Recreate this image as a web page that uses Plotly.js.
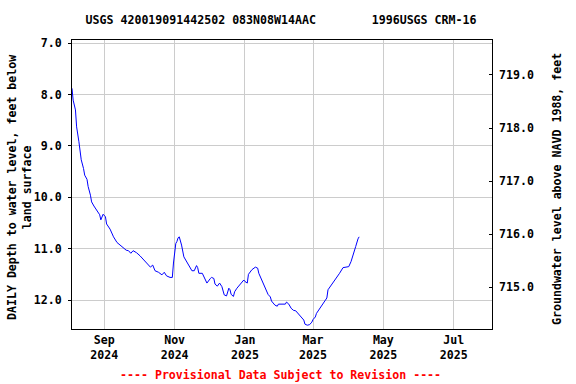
<!DOCTYPE html>
<html>
<head>
<meta charset="utf-8">
<script src="https://cdn.plot.ly/plotly-3.0.1.min.js"></script>
<style>html,body{margin:0;padding:0;background:#fff;}#chart{width:576px;height:384px;}</style>
</head>
<body>
<div id="chart"></div>
<script>
// Daily depth to water level, feet below land surface
const dates = [
  '2024-08-04','2024-08-05','2024-08-07','2024-08-08','2024-08-10','2024-08-11','2024-08-12',
  '2024-08-14','2024-08-15','2024-08-17','2024-08-18','2024-08-20','2024-08-21','2024-08-23',
  '2024-08-25','2024-08-28','2024-08-29','2024-08-31','2024-09-02','2024-09-03','2024-09-06',
  '2024-09-09','2024-09-12','2024-09-15','2024-09-17','2024-09-20','2024-09-22','2024-09-24',
  '2024-09-26','2024-09-29','2024-10-02','2024-10-05','2024-10-08','2024-10-11','2024-10-13',
  '2024-10-15','2024-10-18','2024-10-21','2024-10-23','2024-10-25','2024-10-28','2024-10-30',
  '2024-10-31','2024-11-01','2024-11-02','2024-11-03','2024-11-04','2024-11-05','2024-11-07',
  '2024-11-09','2024-11-12','2024-11-14','2024-11-16','2024-11-18','2024-11-20','2024-11-21',
  '2024-11-22','2024-11-25','2024-11-27','2024-11-29','2024-12-02','2024-12-03','2024-12-05',
  '2024-12-06','2024-12-08','2024-12-10','2024-12-12','2024-12-14','2024-12-16','2024-12-18',
  '2024-12-19','2024-12-20','2024-12-22','2024-12-23','2024-12-25','2024-12-28','2024-12-31',
  '2025-01-01','2025-01-03','2025-01-04','2025-01-07','2025-01-10','2025-01-12','2025-01-13',
  '2025-01-16','2025-01-18','2025-01-20','2025-01-21','2025-01-23','2025-01-24','2025-01-27',
  '2025-01-29','2025-01-30','2025-02-02','2025-02-05','2025-02-06','2025-02-08','2025-02-10',
  '2025-02-12','2025-02-14','2025-02-16','2025-02-19','2025-02-21','2025-02-22','2025-02-24',
  '2025-02-26','2025-02-28','2025-03-01','2025-03-03','2025-03-04','2025-03-07','2025-03-09',
  '2025-03-11','2025-03-13','2025-03-14','2025-03-17','2025-03-20','2025-03-22','2025-03-24',
  '2025-03-27','2025-03-30','2025-04-01','2025-04-03','2025-04-05','2025-04-07','2025-04-09',
  '2025-04-10'
];
const depth = [
  7.88, 8.11, 8.30, 8.63, 8.92, 9.11, 9.27,
  9.44, 9.57, 9.65, 9.79, 9.96, 10.09, 10.17,
  10.25, 10.34, 10.44, 10.33, 10.38, 10.52, 10.62,
  10.77, 10.88, 10.94, 10.98, 11.03, 11.04, 11.09,
  11.04, 11.08, 11.14, 11.22, 11.30, 11.36, 11.32,
  11.43, 11.46, 11.51, 11.46, 11.53, 11.56, 11.56,
  11.28, 11.03, 10.90, 10.86, 10.79, 10.77, 10.93,
  11.16, 11.27, 11.35, 11.43, 11.43, 11.33, 11.37,
  11.48, 11.48, 11.58, 11.67, 11.58, 11.56, 11.58,
  11.69, 11.73, 11.67, 11.74, 11.90, 11.92, 11.77,
  11.80, 11.89, 11.93, 11.84, 11.77, 11.69, 11.61,
  11.64, 11.67, 11.50, 11.41, 11.36, 11.38, 11.48,
  11.64, 11.76, 11.84, 11.89, 11.94, 12.02, 12.10,
  12.12, 12.08, 12.08, 12.08, 12.04, 12.08, 12.16,
  12.20, 12.21, 12.26, 12.33, 12.39, 12.47, 12.49,
  12.48, 12.43, 12.38, 12.33, 12.26, 12.16, 12.10,
  12.03, 11.96, 11.80, 11.71, 11.61, 11.54, 11.48,
  11.37, 11.35, 11.35, 11.25, 11.12, 10.96, 10.81,
  10.77
];
const xTickVals = ['2024-09-01','2024-11-01','2025-01-01','2025-03-01','2025-05-01','2025-07-01'];
const xTickText = ['Sep<br>2024','Nov<br>2024','Jan<br>2025','Mar<br>2025','May<br>2025','Jul<br>2025'];
const depthTicks = [7, 8, 9, 10, 11, 12];
const depthTickText = ['7.0','8.0','9.0','10.0','11.0','12.0'];
const elevTicks = [715, 716, 717, 718, 719];
const elevTickText = ['715.0','716.0','717.0','718.0','719.0'];

const titleText = 'USGS 420019091442502 083N08W14AAC' + '\u00a0'.repeat(8) + '1996USGS CRM-16';
const leftTitle = 'DAILY Depth to water level, feet below<br>land surface';
const rightTitle = 'Groundwater level above NAVD 1988, feet';
const footer = '---- Provisional Data Subject to Revision ----';

const F = 'DejaVu Sans Mono, monospace';

const trace = {
  x: dates, y: depth, type: 'scatter', mode: 'lines',
  line: {color: '#0000ff', width: 1}, hoverinfo: 'skip', showlegend: false
};
// empty trace so the right-hand elevation axis is drawn
const elevAxisTrace = {
  x: [], y: [], type: 'scatter', mode: 'lines', yaxis: 'y2',
  hoverinfo: 'skip', showlegend: false
};

const layout = {
  width: 576, height: 384,
  margin: {l: 72, r: 84, t: 40, b: 55},
  paper_bgcolor: '#ffffff', plot_bgcolor: '#ffffff',
  showlegend: false,
  title: {
    text: titleText, xref: 'container', x: 281/576, xanchor: 'center',
    yref: 'container', y: 1 - 20.3/384, yanchor: 'middle',
    font: {family: F, size: 11.6, color: '#000', weight: 'bold'}
  },
  xaxis: {
    type: 'date', range: ['2024-08-04', '2025-08-03 05:00'],
    tickvals: xTickVals, ticktext: xTickText, ticks: '',
    showgrid: true, gridcolor: '#cccccc', gridwidth: 1,
    showline: true, linecolor: '#000', linewidth: 1, mirror: true,
    zeroline: false,
    tickfont: {family: F, size: 11.6, color: '#000', weight: 'bold'}
  },
  yaxis: {
    range: [12.564, 6.939],
    tickvals: depthTicks, ticktext: depthTickText,
    ticks: 'outside', ticklen: 3, tickcolor: '#000', ticklabelstandoff: 4,
    showgrid: true, gridcolor: '#cccccc', gridwidth: 1,
    showline: true, linecolor: '#000', linewidth: 1, mirror: true,
    zeroline: false,
    tickfont: {family: F, size: 11.6, color: '#000', weight: 'bold'}
  },
  yaxis2: {
    overlaying: 'y', side: 'right', anchor: 'x',
    range: [714.214, 719.659], autorange: false,
    tickvals: elevTicks, ticktext: elevTickText,
    ticks: 'inside', ticklen: 3, tickcolor: '#000', ticklabelstandoff: 6,
    showgrid: false, zeroline: false, showline: false,
    tickfont: {family: F, size: 11.6, color: '#000', weight: 'bold'}
  },
  annotations: [
    {text: leftTitle, xref: 'paper', yref: 'paper', x: (19.5 - 72)/420, y: 0.5 - 3/289,
     xanchor: 'center', yanchor: 'middle', textangle: -90, showarrow: false,
     font: {family: F, size: 11.6, color: '#000', weight: 'bold'}},
    {text: rightTitle, xref: 'paper', yref: 'paper', x: (557 - 72)/420, y: 0.5 - 4.5/289,
     xanchor: 'center', yanchor: 'middle', textangle: -90, showarrow: false,
     font: {family: F, size: 11.6, color: '#000', weight: 'bold'}},
    {text: footer, xref: 'paper', yref: 'paper', x: (280.5 - 72)/420, y: (329 - 375)/289,
     xanchor: 'center', yanchor: 'middle', showarrow: false,
     font: {family: F, size: 11.6, color: '#ff0000', weight: 'bold'}}
  ]
};

Plotly.newPlot('chart', [trace, elevAxisTrace], layout, {staticPlot: true, displayModeBar: false});
</script>
</body>
</html>
